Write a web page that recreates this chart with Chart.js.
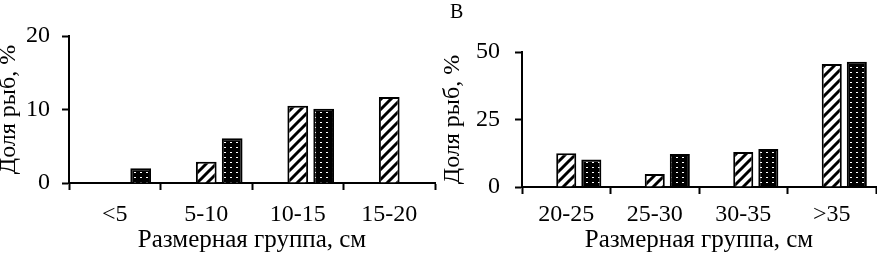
<!DOCTYPE html>
<html>
<head>
<meta charset="utf-8">
<script src="https://cdn.jsdelivr.net/npm/chart.js@4"></script>
<style>
body { margin: 0; background: #fff; }
#wrap { position: relative; width: 877px; height: 254px; }
.panel { position: absolute; top: 0; }
#letter { position: absolute; left: 450px; top: 1px; font: 20px "Liberation Serif"; line-height: 20px; color: #000; }
</style>
</head>
<body>
<div id="wrap">
<canvas id="left" class="panel" width="440" height="254" style="left:0"></canvas>
<canvas id="right" class="panel" width="437" height="254" style="left:440px"></canvas>
<div id="letter">В</div>
</div>
<script>
// panel A: small size groups
const leftGroups = ["<5", "5-10", "10-15", "15-20"]
const leftHatched = [0, 2.9, 10.5, 11.7]
const leftDotted = [2, 6.1, 10.1, 0]
const leftTicks = [0, 10, 20]

// panel B: large size groups
const rightGroups = ["20-25", "25-30", "30-35", ">35"]
const rightHatched = [12.5, 4.8, 13, 45.6]
const rightDotted = [10.2, 12.2, 14.1, 46.4]
const rightTicks = [0, 25, 50]

const yTitle = "Доля рыб, %"
const xTitle = "Размерная группа, см"

Chart.defaults.font.family = "Liberation Serif"
Chart.defaults.font.size = 24
Chart.defaults.color = "#000"

function hatchPattern() {
  const c = document.createElement("canvas")
  c.width = 10
  c.height = 10
  const g = c.getContext("2d")
  g.fillStyle = "#fff"
  g.fillRect(0, 0, 10, 10)
  g.strokeStyle = "#000"
  g.lineWidth = 3
  g.beginPath()
  g.moveTo(-2, 12); g.lineTo(12, -2)
  g.moveTo(-2, 2); g.lineTo(2, -2)
  g.moveTo(8, 12); g.lineTo(12, 8)
  g.stroke()
  return g.createPattern(c, "repeat")
}

function dotPattern() {
  const c = document.createElement("canvas")
  c.width = 6
  c.height = 5
  const g = c.getContext("2d")
  g.fillStyle = "#000"
  g.fillRect(0, 0, 6, 5)
  g.fillStyle = "#fff"
  g.fillRect(2, 2, 2, 1)
  return g.createPattern(c, "repeat")
}

function makeChart(id, groups, hatched, dotted, ticks, opts) {
  const ctx = document.getElementById(id)
  return new Chart(ctx, {
    type: "bar",
    data: {
      labels: groups,
      datasets: [
        // empty first series, keeps bars shifted like in the original
        { data: groups.map(() => null), backgroundColor: "#fff" },
        { data: hatched, backgroundColor: hatchPattern(), borderColor: "#000", borderWidth: 2 },
        { data: dotted, backgroundColor: dotPattern(), borderColor: "#000", borderWidth: 2 }
      ]
    },
    options: {
      responsive: false,
      animation: false,
      events: [],
      categoryPercentage: 0.85,
      barPercentage: 0.8,
      layout: { padding: { top: opts.top, right: opts.right, left: 0, bottom: 0 } },
      plugins: { legend: { display: false }, tooltip: { enabled: false } },
      scales: {
        x: {
          grid: { drawOnChartArea: false, offset: true, tickLength: 7, tickColor: "#000", tickWidth: 2 },
          border: { color: "#000", width: 2 },
          ticks: { padding: opts.xPad, maxRotation: 0 },
          title: { display: true, text: xTitle, padding: 0, font: { size: 25, lineHeight: 1.1 } },
          afterFit: s => { s.height = opts.xHeight }
        },
        y: {
          min: ticks[0],
          max: ticks[ticks.length - 1],
          afterBuildTicks: s => { s.ticks = ticks.map(v => ({ value: v })) },
          grid: { drawOnChartArea: false, tickLength: 7, tickColor: "#000", tickWidth: 2 },
          border: { color: "#000", width: 2 },
          ticks: { padding: opts.yPad },
          title: { display: true, text: yTitle, padding: { top: opts.titleOff, bottom: 0 }, font: { size: 24, lineHeight: 1 } },
          afterFit: s => { s.width = opts.yWidth }
        }
      }
    }
  })
}

makeChart("left", leftGroups, leftHatched, leftDotted, leftTicks,
  { top: 36, right: 5, xHeight: 71, yWidth: 69, xPad: 10, yPad: 12, titleOff: -3 })
makeChart("right", rightGroups, rightHatched, rightDotted, rightTicks,
  { top: 52, right: 1, xHeight: 67, yWidth: 82, xPad: 6, yPad: 15, titleOff: 1 })
</script>
</body>
</html>
